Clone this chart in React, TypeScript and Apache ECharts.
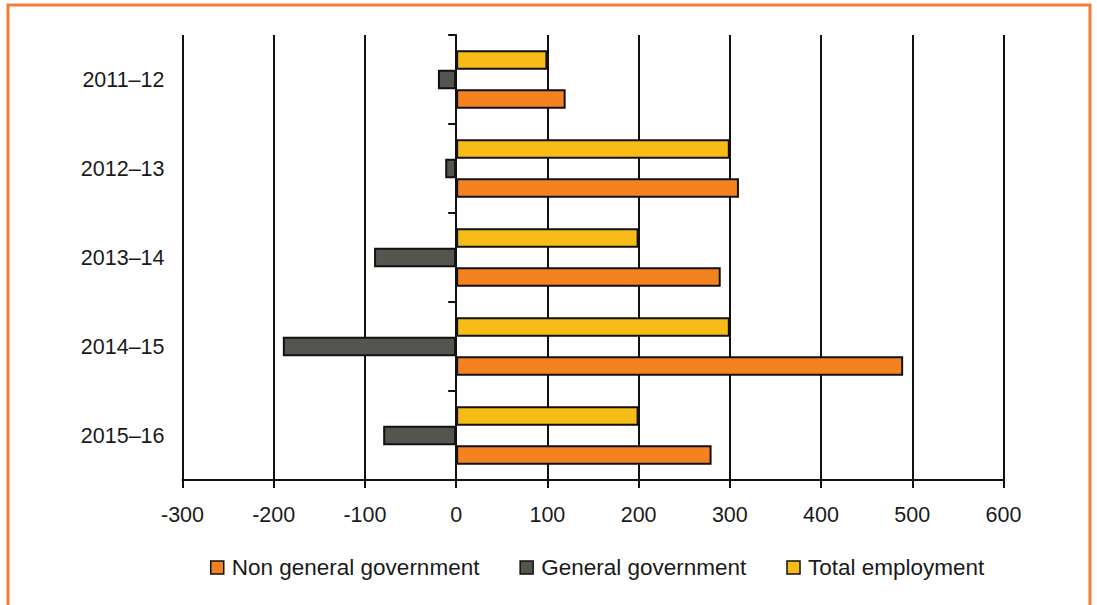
import React, { useEffect, useRef } from "react";
import * as echarts from "echarts";

// Change in employment by sector, by financial year
const years = ["2011–12", "2012–13", "2013–14", "2014–15", "2015–16"];
const nonGeneralGovernment = [120, 310, 290, 490, 280];
const generalGovernment = [-20, -12, -90, -190, -80];
const totalEmployment = [100, 300, 200, 300, 200];

const xTicks = { min: -300, max: 600, interval: 100 };

const FONT = '"Liberation Sans", Arial, Helvetica, sans-serif';
const ORANGE = "#F58220";
const GREY = "#55554F";
const YELLOW = "#F7BC18";
const FRAME = "#F47D3A";

export default function App() {
  const ref = useRef<HTMLDivElement>(null);

  useEffect(() => {
    if (!ref.current) return;
    const chart = echarts.init(ref.current, undefined, { renderer: "svg" });

    const barStyle = (color: string) => ({
      color,
      borderColor: "#111",
      borderWidth: 2,
    });

    chart.setOption({
      animation: false,
      backgroundColor: "#fff",
      textStyle: { fontFamily: FONT },
      graphic: [
        {
          type: "rect",
          shape: { x: 8, y: 5, width: 1082, height: 700 },
          style: { fill: "none", stroke: FRAME, lineWidth: 3 },
          silent: true,
        },
      ],
      grid: { left: 182.5, right: 93.5, top: 35, bottom: 125, containLabel: false },
      legend: {
        data: ["Non general government", "General government", "Total employment"],
        left: 205,
        top: 551,
        itemWidth: 13,
        itemHeight: 13,
        itemGap: 40,
        icon: "rect",
        itemStyle: { borderColor: "#111", borderWidth: 1.5 },
        textStyle: { fontFamily: FONT, fontSize: 22.5, color: "#1a1a1a", padding: [0, 0, 0, 3] },
      },
      xAxis: {
        type: "value",
        min: xTicks.min,
        max: xTicks.max,
        interval: xTicks.interval,
        axisLine: { show: true, onZero: false, lineStyle: { color: "#111", width: 2 } },
        axisTick: { show: true, length: 8, lineStyle: { color: "#111", width: 2 } },
        splitLine: { show: true, lineStyle: { color: "#111", width: 2 } },
        axisLabel: { fontFamily: FONT, fontSize: 21.5, color: "#1a1a1a", margin: 24 },
      },
      yAxis: [
        {
          // category labels along the left edge of the plot
          type: "category",
          data: years,
          inverse: true,
          position: "left",
          axisLine: { show: false, onZero: false },
          axisTick: { show: false },
          splitLine: { show: false },
          axisLabel: { fontFamily: FONT, fontSize: 21.5, color: "#1a1a1a", margin: 18 },
        },
        {
          // axis line with boundary ticks, crossing at zero
          type: "category",
          data: years,
          inverse: true,
          position: "left",
          axisLine: { show: true, onZero: true, lineStyle: { color: "#111", width: 2 } },
          axisTick: { show: true, length: 8, lineStyle: { color: "#111", width: 2 } },
          axisLabel: { show: false },
          splitLine: { show: false },
        },
      ],
      series: [
        {
          name: "Total employment",
          type: "bar",
          data: totalEmployment,
          barGap: "0%",
          barCategoryGap: "34%",
          itemStyle: barStyle(YELLOW),
        },
        {
          name: "General government",
          type: "bar",
          data: generalGovernment,
          barGap: "0%",
          barCategoryGap: "34%",
          itemStyle: barStyle(GREY),
        },
        {
          name: "Non general government",
          type: "bar",
          data: nonGeneralGovernment,
          barGap: "0%",
          barCategoryGap: "34%",
          itemStyle: barStyle(ORANGE),
        },
      ],
    });

    return () => chart.dispose();
  }, []);

  return (
    <div
      ref={ref}
      style={{ position: "fixed", left: 0, top: 0, width: 1097, height: 605 }}
    />
  );
}
